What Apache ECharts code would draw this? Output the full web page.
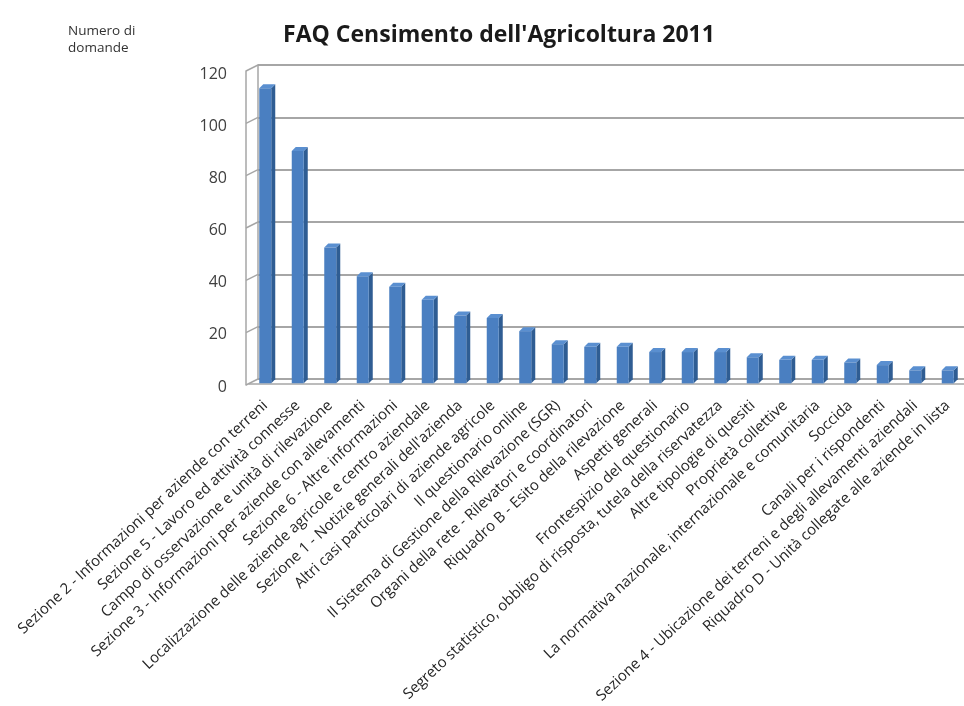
<!DOCTYPE html>
<html>
<head>
<meta charset="utf-8">
<script src="https://cdn.jsdelivr.net/npm/echarts@6/dist/echarts.min.js"></script>
<style>
  html, body { margin: 0; padding: 0; background: #ffffff; }
  #chart { width: 964px; height: 706px; }
</style>
</head>
<body>
<div id="chart"></div>
<script>
// FAQ per argomento, censimento dell'agricoltura 2011
const categories = [
  "Sezione 2 - Informazioni per aziende con terreni",
  "Sezione 5 - Lavoro ed attività connesse",
  "Campo di osservazione e unità di rilevazione",
  "Sezione 3 - Informazioni per aziende con allevamenti",
  "Sezione 6 - Altre informazioni",
  "Localizzazione delle aziende agricole e centro aziendale",
  "Sezione 1 - Notizie generali dell'azienda",
  "Altri casi particolari di aziende agricole",
  "Il questionario online",
  "Il Sistema di Gestione della Rilevazione (SGR)",
  "Organi della rete - Rilevatori e coordinatori",
  "Riquadro B - Esito della rilevazione",
  "Aspetti generali",
  "Frontespizio del questionario",
  "Segreto statistico, obbligo di risposta, tutela della riservatezza",
  "Altre tipologie di quesiti",
  "Proprietà collettive",
  "La normativa nazionale, internazionale e comunitaria",
  "Soccida",
  "Canali per i rispondenti",
  "Sezione 4 - Ubicazione dei terreni e degli allevamenti aziendali",
  "Riquadro D - Unità collegate alle aziende in lista"
];
const domande = [113, 89, 52, 41, 37, 32, 26, 25, 20, 15, 14, 14, 12, 12, 12, 10, 9, 9, 8, 7, 5, 5];
const yTicks = [0, 20, 40, 60, 80, 100, 120];

const FONT = "'Open Sans', 'Noto Sans', sans-serif";
const GRID_LINE = '#a6a6a6';
const Y_MAX = 120;
const Y_STEP = 20;

// prism bar: front face, dark side face and light top face
function renderBar(params, api) {
  const v = api.value(1);
  const base = api.coord([api.value(0), 0]);
  const top = api.coord([api.value(0), v]);
  const w = 12, dx = 4, dy = 4;
  const x0 = base[0] - 6;
  const x1 = x0 + w;
  return {
    type: 'group',
    children: [
      { type: 'polygon', shape: { points: [[x1, top[1]], [x1 + dx, top[1] - dy], [x1 + dx, base[1] - dy], [x1, base[1]]] },
        style: { fill: '#2f5d93' } },
      { type: 'polygon', shape: { points: [[x0, top[1]], [x0 + dx, top[1] - dy], [x1 + dx, top[1] - dy], [x1, top[1]]] },
        style: { fill: '#5a8fd0' } },
      { type: 'rect', shape: { x: x0, y: top[1], width: w, height: base[1] - top[1] },
        style: { fill: '#4a7fc1' } }
    ]
  };
}

const chart = echarts.init(document.getElementById('chart'));
const option = {
  animation: false,
  backgroundColor: '#ffffff',
  title: [
    { text: "FAQ Censimento dell'Agricoltura 2011", left: 494, top: 19, textAlign: 'center',
      textStyle: { fontFamily: FONT, fontSize: 23, fontWeight: 'bold', color: '#1a1a1a' } },
    { text: 'Numero di\ndomande', left: 63, top: 18,
      textStyle: { fontFamily: FONT, fontSize: 13.5, fontWeight: 'normal', color: '#333333', lineHeight: 17 } }
  ],
  grid: [
    // bars and category labels
    { left: 249, width: 717, top: 70, height: 314 },
    // front edge of the side wall
    { left: 246, width: 10, top: 71, height: 314 },
    // back wall with horizontal gridlines
    { left: 258, width: 720, top: 65, height: 314 },
    // value labels, set just in front of the side wall
    { left: 246, width: 10, top: 74, height: 313 }
  ],
  xAxis: [
    { gridIndex: 0, type: 'category', data: categories,
      axisLine: { show: true, lineStyle: { color: GRID_LINE, width: 1.5 } },
      axisTick: { show: false },
      axisLabel: { interval: 0, rotate: 43, margin: 20, fontFamily: FONT, fontSize: 15, color: '#262626' } },
    { gridIndex: 1, type: 'value', show: false },
    { gridIndex: 2, type: 'value', show: false },
    { gridIndex: 3, type: 'value', show: false }
  ],
  yAxis: [
    { gridIndex: 0, type: 'value', min: 0, max: Y_MAX, interval: Y_STEP, show: false },
    { gridIndex: 1, type: 'value', min: 0, max: Y_MAX, interval: Y_STEP,
      axisLine: { show: true, lineStyle: { color: GRID_LINE, width: 1.5 } },
      axisTick: { show: false },
      splitLine: { show: false },
      axisLabel: { show: false } },
    { gridIndex: 2, type: 'value', min: 0, max: Y_MAX, interval: Y_STEP,
      axisLine: { show: true, lineStyle: { color: GRID_LINE, width: 1.5 } },
      axisTick: { show: false },
      axisLabel: { show: false },
      splitLine: { show: true, lineStyle: { color: GRID_LINE, width: 2 } } },
    { gridIndex: 3, type: 'value', min: 0, max: Y_MAX, interval: Y_STEP,
      axisLine: { show: false },
      axisTick: { show: false },
      splitLine: { show: false },
      axisLabel: { margin: 19, fontFamily: FONT, fontSize: 16, color: '#404040',
        formatter: (v) => String(v) } }
  ],
  series: [
    { type: 'custom', name: 'Numero di domande', xAxisIndex: 0, yAxisIndex: 0,
      renderItem: renderBar,
      data: domande.map((v, i) => [i, v]),
      z: 5 }
  ]
};
chart.setOption(option);

// side-wall gridlines linking the front edge to the back wall
const sideLines = yTicks.map((t) => {
  const a = chart.convertToPixel({ gridIndex: 1 }, [0, t]);
  const b = chart.convertToPixel({ gridIndex: 2 }, [0, t]);
  return { type: 'line', shape: { x1: a[0], y1: a[1], x2: b[0], y2: b[1] },
    style: { stroke: GRID_LINE, lineWidth: 1.5 }, z: 1 };
});
chart.setOption({ graphic: sideLines });
</script>
</body>
</html>
